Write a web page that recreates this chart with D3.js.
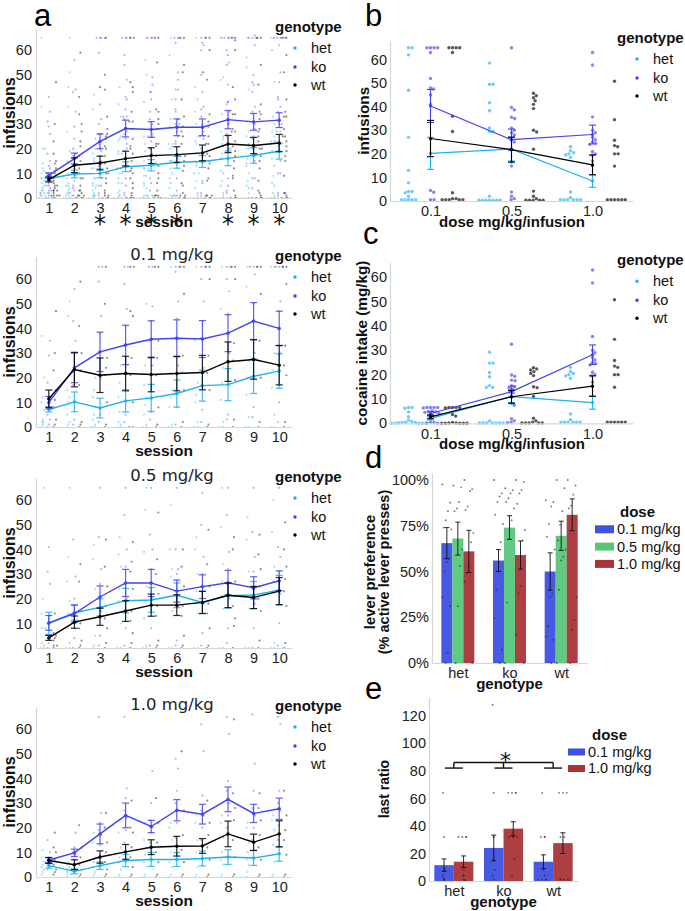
<!DOCTYPE html>
<html>
<head>
<meta charset="utf-8">
<script src="https://cdn.jsdelivr.net/npm/d3@7"></script>
<style>
  body { margin: 0; background: #fff; }
  svg { display: block; }
</style>
</head>
<body>
<div id="corpo"></div>
<script>
// ---- data ----
var sessions = [1, 2, 3, 4, 5, 6, 7, 8, 9, 10];
var genotypes = ["het", "ko", "wt"];
var doseLabels = ["0.1", "0.5", "1.0"];
var doseValues = [0.1, 0.5, 1.0];
var starSessions = [3, 4, 5, 6, 8, 9, 10];

// session means / sem, all doses pooled (panel a)
var meanAll = {het: [7.9, 9.75, 10, 12.7, 13.3, 14.5, 14.8, 16.1, 17.3, 19],
               ko:  [9.2, 16, 23, 28.2, 27.8, 28.7, 28.7, 31.8, 30.9, 31.6],
               wt:  [7.5, 13.3, 14.2, 16, 17.2, 17.6, 18.3, 21.9, 21.3, 22.3]};
var seAll = {het: [1, 1.6, 1.8, 2, 2.3, 2.4, 2.4, 3, 3.2, 3.2],
             ko:  [1, 2.2, 3, 3.4, 3.2, 3.4, 3.4, 3.7, 3.4, 3],
             wt:  [1, 3, 2.8, 3, 3.2, 3.2, 3.2, 3.5, 3.3, 3.5]};
var mean01 = {het: [7.1, 10.2, 7.7, 10.6, 11.8, 13.6, 16.8, 17.2, 20.6, 22.7],
              ko:  [9.9, 24, 30.5, 33.3, 35.6, 36, 35.7, 38.1, 43, 40],
              wt:  [11.5, 23.3, 21, 21.7, 21.3, 21.7, 22.1, 26.5, 27.4, 25.1]};
var se01 = {het: [1, 4, 4, 4.5, 5.5, 5.5, 6.3, 6.5, 7, 7],
            ko:  [2.5, 6, 8, 8, 7.5, 7.5, 7.5, 7.5, 7.5, 7],
            wt:  [3.5, 7, 7, 7, 7, 7, 7, 8, 8, 8]};
var mean05 = {het: [10, 14.3, 16.5, 19.2, 19.5, 21.4, 18.5, 21.2, 21.5, 23.5],
              ko:  [10.2, 14, 20.7, 26.4, 26.4, 23.1, 24.9, 26.5, 24.4, 27.3],
              wt:  [4.1, 10.5, 12.7, 15, 17.4, 17.4, 18.5, 21.4, 20.5, 23.1]};
var se05 = {het: [4.5, 3, 3.5, 5, 5, 5, 4.5, 5, 5.5, 6],
            ko:  [3, 3.5, 4.5, 5.5, 5.5, 4.5, 4.8, 5, 4.5, 4],
            wt:  [1, 2.5, 3.5, 4.2, 4.5, 4.2, 4.5, 5, 4.5, 5.5]};
var mean10 = {het: [4.6, 2.3, 4.6, 6.7, 7.1, 7.1, 7.5, 8.1, 7.7, 9.4],
              ko:  [6.9, 9.8, 17.5, 25, 20.5, 27.1, 25.5, 31.5, 25.8, 27.7],
              wt:  [6.7, 5, 8.1, 10.2, 12.1, 12.5, 12.6, 17.5, 14.1, 17.5]};
var se10 = {het: [1, 1, 1.5, 2.5, 2.8, 2.8, 3, 3, 3, 3],
            ko:  [1, 1.5, 4, 5, 2.5, 4.3, 4, 5, 3.7, 4.3],
            wt:  [1.2, 2, 2.5, 3, 3, 4, 3, 5.2, 3.3, 5.3]};

// individual animals per session (one list per session)
var dots01Het = [[0,1,2,2,3,7,10,12,20,37],[0,1,2,5,10,12,15,45,51],[0,0,1,3,5,8,12,15,20],[0,0,1,2,6,10,12,18,25],[0,0,1,5,9,12,17,25,50],
                 [0,0,1,8,12,15,22,65],[0,0,2,10,13,18,35,65],[0,0,2,11,18,24,48,65],[0,0,4,13,20,27,57,65],[0,0,5,16,23,30,65,65]];
var dots01Ko = [[0,1,3,5,10,12,18,29,35],[1,3,10,17,24,35,43,56],[2,5,20,30,38,45,59,65,65],[2,5,22,33,41,48,58,65,65],[3,6,25,35,43,49,65,65],
                [1,8,25,36,44,51,63,65,65],[2,7,24,36,43,51,60,65,65],[3,5,30,38,46,55,60,65,65],[4,8,30,43,50,62,65,65,65],[2,10,30,40,47,51,65,65,65]];
var dots01Wt = [[0,1,3,8,11,15,23,30,47],[0,1,2,17,23,30,41,59],[0,1,10,21,24,28,50,65],[0,0,10,21,28,45,47,65,65],[0,1,8,21,28,35,65,65],
                [0,2,15,22,29,54,65,65],[0,1,15,22,29,60,65,65],[0,3,19,27,34,60,65,65],[0,2,20,27,35,54,65,65],[0,2,21,25,33,58,65,65]];
var dots05Het = [[0,0,1,2,8,8,14,20,65],[0,0,2,8,14,19,27,37,65],[0,1,5,12,16,24,36,42],[0,0,10,19,24,33,38,45],[0,0,1,12,19,25,39,56,65],
                 [0,0,15,21,29,32,40,58],[0,0,14,18,23,30,40,45],[0,0,16,21,27,34,49,65],[0,0,16,21,25,31,44,53],[0,0,2,23,27,33,47,60]];
var dots05Ko = [[0,2,4,10,13,26,31,41],[0,4,10,14,20,29,44],[1,5,15,20,26,32,45,65],[1,8,20,26,33,40,54,65],[1,8,20,26,32,40,46,65],
                [1,3,17,23,30,32,40,65],[1,6,18,25,30,37,50,63],[2,8,20,26,32,39,54,65],[0,8,18,24,31,37,47,65],[1,10,22,27,31,37,41,65]];
var dots05Wt = [[0,1,1,3,4,5,6,14],[0,1,3,8,10,15,27,34],[0,2,8,12,17,25,33,44],[0,2,6,11,15,24,31,35,43],[0,1,3,13,17,22,30,36,55],
                [0,1,5,13,17,25,33,40],[0,1,8,14,18,25,34,48],[0,9,12,17,21,27,40,45],[0,3,15,20,25,32,38,46],[0,2,17,23,28,33,40,51]];
var dots10Het = [[1,2,3,4,5,6,8,11],[0,1,1,2,3,4,5,6],[0,1,2,4,6,8,14,18],[0,1,3,6,8,12,18,23],[0,1,4,6,9,12,15,22],
                 [0,1,4,6,10,15,20,22],[0,1,4,7,10,15,22,25],[0,1,5,7,10,16,22,25],[0,2,5,7,10,14,20,22],[0,1,6,9,13,19,23,25]];
var dots10Ko = [[3,5,6,7,8,10,15],[5,7,9,10,12,18],[8,13,17,19,22,26,65],[14,19,24,27,32,36,65],[14,18,20,23,30,43],
                [16,22,27,30,35,44,48],[15,20,25,27,33,51,62],[20,25,30,35,39,58,65],[15,20,25,28,35,46,66],[15,21,27,30,35,62,65]];
var dots10Wt = [[1,2,3,5,7,10,12,18],[0,1,3,5,8,12,21],[0,1,3,6,10,14,20,26],[0,1,4,8,12,18,20,31],[0,1,6,10,14,22,32],
                [0,1,6,11,17,27,51],[0,1,7,12,17,22,31],[0,1,8,15,23,28,34,64],[0,1,7,12,17,23,28,34],[0,1,9,15,19,25,35]];

// panel b: infusions per dose (per animal), means and sem
var doseMean = {het: [20.2, 22, 8.5], ko: [40.3, 26, 28.2], wt: [26.5, 21.8, 15.3]};
var doseSe = {het: [6.8, 5, 2.7], ko: [7, 4.5, 4], wt: [7.7, 5.3, 4.2]};
var doseDotsHet = [[65,65,62,47,27,13,7.7,4,4,3.5,2,0.5,0.5,0.5,0.5,0.5],
                   [58.5,49.5,49.5,41.7,38.3,31,29.5,29.5,2,0.3,0.3,0.3,0.3,0.3,0.3,0.3],
                   [23,21.3,20.5,20,19.5,18.5,3.8,1.5,0.5,0.5,0.5,0.5,0.5,0.5]];
var doseDotsKo = [[65,65,65,65,63,52,48,47.5,45,41,4.5,3.7,0.5,0.5],
                  [65,39.7,38.7,35.5,35,31,30,29,28,26,25,22,16.5,14.8,3.8,2,1,0.5],
                  [63,57.7,35.7,30,29,27,26,25,24.5,24,21,20,19.5,17,15]];
var doseDotsWt = [[65,65,65,65,63,36,29.5,3.5,1,1,0.5,0.5,0.5,0.5,0.5],
                  [45.7,44.7,43.8,42.5,41,39.2,30,29.3,22,4.2,2,1,0.3,0.3,0.3,0.3,0.3],
                  [50.8,34.5,25.8,23.5,23,20,20,14.8,0.5,0.5,0.5,0.5,0.5,0.5]];

// panel d: lever preference
var leverDoses = ["0.1 mg/kg", "0.5 mg/kg", "1.0 mg/kg"];
var leverMean = {het: [0.655, 0.68, 0.61], ko: [0.56, 0.74, 0.59], wt: [0.50, 0.695, 0.81]};
var leverSe = {het: [0.085, 0.09, 0.115], ko: [0.06, 0.065, 0.077], wt: [0.102, 0.08, 0.087]};
var leverDots = {
  het: [[0.976,0.876,0.83,0.78,0.74,0.73,0.57,0.55,0.50,0.36,0.31,0.055,0],[0.97,0.96,0.88,0.845,0.83,0.62,0.53,0.31,0],[1,0.95,0.94,0.855,0.836,0.71,0.66,0.53,0.49,0.445,0]],
  ko:  [[1,0.927,0.91,0.88,0.81,0.76,0.66,0.5,0.4,0.245,0.073,0],[0.955,0.945,0.927,0.9,0.88,0.845,0.78,0.68,0.33,0],[1,0.99,0.945,0.927,0.87,0.727,0.67,0.42,0.38,0.155,0]],
  wt:  [[0.89,0.88,0.855,0.76,0.69,0.62,0.38,0.36,0.2,0.145,0.127,0],[1,0.955,0.83,0.755,0.67,0.62,0.58,0.56,0.4,0],[1,0.97,0.92,0.86,0.845,0.36,0.236,0.18,0]]
};

// panel e: last ratio
var ratioDoses = ["0.1 mg/kg", "1.0 mg/kg"];
var ratioMean = {het: [11.5, 14], ko: [24, 38], wt: [14, 27.5]};
var ratioSe = {het: [4.5, 4.2], ko: [9.3, 5], wt: [5, 7.5]};
var ratioDots = {
  het: [[64,32,8,4,2,1,1,0.5],[32,32,32,32,8,4,4,1,0.5]],
  ko:  [[128,64,32,32,16,8,4,1],[64,64,64,64,32,32,32,32,16,4]],
  wt:  [[64,32,32,32,8,4,1,1,1,1],[64,64,64,32,32,1,1,1,1]]
};

// ---- drawing ----
var FONT = "'Liberation Sans', Arial, sans-serif";
var genoColor = {het: "#1eb1ef", ko: "#4242f0", wt: "#000000"};
var doseColor3 = ["#3f51e0", "#58c67a", "#a93438"];
var doseColor2 = ["#3f51e0", "#a93438"];

var svg = d3.select("#corpo").append("svg")
    .attr("width", 685)
    .attr("height", 911)
    .style("font-family", FONT);

function styleAxis(sel) {
    sel.select(".domain").attr("stroke", "#d6d6d6").attr("stroke-width", 1.2);
    sel.selectAll("text").attr("fill", "#222").style("font-size", "14.5px").style("font-family", FONT);
}

function drawAxes(g, x, y, left, bottom, yTicks, yFmt, pad) {
    var ya = d3.axisLeft(y).tickValues(yTicks).tickSize(0).tickSizeOuter(0).tickPadding(pad);
    if (yFmt) ya.tickFormat(yFmt);
    g.append("g").attr("transform", "translate(" + left + ",0)").call(ya).call(styleAxis);
    var xa = d3.axisBottom(x).tickSize(0).tickSizeOuter(0).tickPadding(5);
    g.append("g").attr("transform", "translate(0," + bottom + ")").call(xa).call(styleAxis);
}

function text(g, x, y, s, size, weight, anchor, rotate) {
    var t = g.append("text").attr("x", x).attr("y", y).text(s)
        .style("font-size", size + "px").style("font-weight", weight || "normal")
        .attr("text-anchor", anchor || "start").attr("fill", "#111");
    if (rotate) t.attr("transform", "rotate(-90," + x + "," + y + ")");
    return t;
}

function errBar(g, x, lo, hi, w) {
    g.append("line").attr("x1", x).attr("x2", x).attr("y1", lo).attr("y2", hi);
    g.append("line").attr("x1", x - w).attr("x2", x + w).attr("y1", lo).attr("y2", lo);
    g.append("line").attr("x1", x - w).attr("x2", x + w).attr("y1", hi).attr("y2", hi);
}

// spread repeated values sideways like the reference's dodged points
function spreadDup(vals, gap) {
    var count = {}, idx = {};
    vals.forEach(function(v) { count[v] = (count[v] || 0) + 1; });
    return vals.map(function(v, i) {
        idx[v] = (idx[v] === undefined) ? 0 : idx[v] + 1;
        return {v: v, dx: (idx[v] - (count[v] - 1) / 2) * gap + ((i % 3) - 1) * 1.2};
    });
}

// simple beeswarm offsets
function swarm(vals, y, r) {
    var placed = [];
    vals.forEach(function(v) {
        var p = {v: v, py: y(v), dx: 0};
        for (var k = 0; k < 200; k++) {
            var cand = k === 0 ? 0 : (k % 2 ? 1 : -1) * Math.ceil(k / 2) * 0.4;
            var ok = placed.every(function(q) {
                var ddx = q.dx - cand, ddy = q.py - p.py;
                return ddx * ddx + ddy * ddy >= 4 * r * r;
            });
            if (ok) { p.dx = cand; break; }
        }
        placed.push(p);
    });
    return placed;
}

function genoLegend(g, x, y0, dx) {
    text(g, x, y0, "genotype", 15, "bold");
    var ys = [21, 40, 58];
    genotypes.forEach(function(gt, i) {
        g.append("circle").attr("cx", x + dx).attr("cy", y0 + ys[i] - 5).attr("r", 1.7).attr("fill", genoColor[gt]);
        text(g, x + dx + 16, y0 + ys[i], gt, 14.5);
    });
}

function drawLinePanel(y0, title, means, se, dots, stars) {
    var g = svg.append("g");
    var x = d3.scalePoint().domain(sessions).range([36, 292]).padding(0.5);
    var y = d3.scaleLinear().domain([0, 69]).range([y0, y0 - 170]);
    var offs = {het: -6, ko: 0, wt: 6};

    genotypes.forEach(function(gt) {
        sessions.forEach(function(s, si) {
            g.selectAll(null).data(spreadDup(dots[gt][si], 2.3)).enter().append("circle")
                .attr("cx", function(d) { return x(s) + offs[gt] + d.dx; })
                .attr("cy", function(d) { return y(d.v); })
                .attr("r", 1.1)
                .attr("fill", genoColor[gt])
                .attr("fill-opacity", gt === "wt" ? 0.45 : 0.4);
        });
    });

    drawAxes(g, x, y, 36, y0, d3.range(0, 61, 10), null, 4);

    genotypes.forEach(function(gt) {
        var m = means[gt], e = se[gt], c = genoColor[gt];
        var eb = g.append("g").attr("stroke", c).attr("stroke-width", 1.2).attr("opacity", 0.85);
        sessions.forEach(function(s, i) { errBar(eb, x(s), y(m[i] - e[i]), y(m[i] + e[i]), 3.5); });
        g.append("path").datum(m)
            .attr("fill", "none").attr("stroke", c).attr("stroke-width", 1.4)
            .attr("d", d3.line().x(function(d, i) { return x(sessions[i]); }).y(function(d) { return y(d); }));
        g.selectAll(null).data(m).enter().append("circle")
            .attr("cx", function(d, i) { return x(sessions[i]); })
            .attr("cy", function(d) { return y(d); })
            .attr("r", 1.7).attr("fill", c);
    });

    if (title) {
        text(g, 172, y0 - 167, title, 16.5, "normal", "middle").style("font-family", "'DejaVu Sans', sans-serif").attr("fill", "#222");
    }
    if (stars) {
        g.selectAll(null).data(stars).enter().append("text")
            .attr("x", function(d) { return x(d); })
            .attr("y", y0 + 34)
            .attr("text-anchor", "middle")
            .style("font-family", "'DejaVu Sans', sans-serif")
            .style("font-size", "24px")
            .attr("fill", "#111")
            .text("*");
    }
    genoLegend(g, 275, y0 - 166, 20);
    text(g, 15, y0 - 85, "infusions", 16, "bold", "middle", true);
    text(g, 164, y0 + 29, "session", 15.5, "bold", "middle");
}

function drawDosePanel(y0, top, yMax, useIntake, yTitle, titleX) {
    var g = svg.append("g");
    var x = d3.scalePoint().domain(doseLabels).range([390, 633]).padding(0.5);
    var y = d3.scaleLinear().domain([0, yMax]).range([y0, top]);
    var offs = {het: -22, ko: 0, wt: 22};
    var dotsBy = {het: doseDotsHet, ko: doseDotsKo, wt: doseDotsWt};
    var k = function(di) { return useIntake ? doseValues[di] : 1; };

    genotypes.forEach(function(gt) {
        doseLabels.forEach(function(dl, di) {
            var vals = dotsBy[gt][di].map(function(v) { return v * k(di); });
            g.selectAll(null).data(swarm(vals, y, 1.7)).enter().append("circle")
                .attr("cx", function(d) { return x(dl) + offs[gt] + d.dx; })
                .attr("cy", function(d) { return d.py; })
                .attr("r", 1.7)
                .attr("fill", genoColor[gt])
                .attr("fill-opacity", 0.65);
        });
    });

    drawAxes(g, x, y, 390, y0, d3.range(0, 61, 10), null, 3);

    genotypes.forEach(function(gt) {
        var m = doseMean[gt].map(function(v, di) { return v * k(di); });
        var e = doseSe[gt].map(function(v, di) { return v * k(di); });
        var c = genoColor[gt];
        var eb = g.append("g").attr("stroke", c).attr("stroke-width", 1.1);
        doseLabels.forEach(function(dl, i) { errBar(eb, x(dl), y(m[i] - e[i]), y(m[i] + e[i]), 3.5); });
        g.append("path").datum(m)
            .attr("fill", "none").attr("stroke", c).attr("stroke-width", 1.2)
            .attr("d", d3.line().x(function(d, i) { return x(doseLabels[i]); }).y(function(d) { return y(d); }));
        g.selectAll(null).data(m).enter().append("circle")
            .attr("cx", function(d, i) { return x(doseLabels[i]); })
            .attr("cy", function(d) { return y(d); })
            .attr("r", 1.6).attr("fill", c);
    });

    genoLegend(g, 617, y0 - 158, 20);
    text(g, titleX, (y0 + top) / 2, yTitle, 15.3, "bold", "middle", true);
    text(g, 512, y0 + 26, "dose mg/kg/infusion", 15, "bold", "middle");
}

function drawBarPanel(o) {
    var g = svg.append("g");
    var x = d3.scalePoint().domain(genotypes).range(o.xr).padding(0.5);
    var xs = d3.scaleBand().domain(o.doses).range([-o.half, o.half]);
    var y = d3.scaleLinear().domain([0, o.yMax]).range([o.y0, o.top]);
    var bw = xs.bandwidth();

    genotypes.forEach(function(gt) {
        o.doses.forEach(function(ds, di) {
            var m = o.means[gt][di];
            g.append("rect")
                .attr("x", x(gt) + xs(ds)).attr("y", y(m))
                .attr("width", bw).attr("height", o.y0 - y(m))
                .attr("fill", o.colors[di]).attr("fill-opacity", 0.95);
        });
    });

    drawAxes(g, x, y, o.xr[0], o.y0, o.ticks, o.fmt, 3);

    genotypes.forEach(function(gt) {
        o.doses.forEach(function(ds, di) {
            var cx = x(gt) + xs(ds) + bw / 2;
            var pts = o.jitter ? o.dots[gt][di].map(function(v, i) { return {v: v, dx: (((i * 7) % 9) - 4) * 1.1}; })
                               : spreadDup(o.dots[gt][di], 2.6);
            g.selectAll(null).data(pts).enter().append("circle")
                .attr("cx", function(d) { return cx + d.dx; })
                .attr("cy", function(d) { return y(d.v); })
                .attr("r", 0.95)
                .attr("fill", "#222").attr("fill-opacity", 0.6);
            var m = o.means[gt][di], e = o.se[gt][di];
            var eb = g.append("g").attr("stroke", "#111").attr("stroke-width", 0.9);
            errBar(eb, cx, y(m - e), y(m + e), 2.5);
        });
    });

    // legend
    text(g, o.leg[0] + o.legTitleDx, o.leg[1], "dose", 15, "bold");
    o.doses.forEach(function(ds, di) {
        var by = o.leg[1] + o.legStep * (di + 1);
        g.append("rect").attr("x", o.leg[0]).attr("y", by - o.swH - 1)
            .attr("width", o.swW).attr("height", o.swH).attr("fill", o.colors[di]);
        text(g, o.leg[0] + o.swW + 3, by, ds, 14.5);
    });
    text(g, (o.xr[0] + o.xr[1]) / 2, o.y0 + 26, "genotype", 15, "bold", "middle");
    return {g: g, x: x, y: y};
}

// panel letters
[["a", 34, 26], ["b", 365, 26], ["c", 363, 244], ["d", 365, 468], ["e", 365, 699]].forEach(function(l) {
    text(svg, l[1], l[2], l[0], 31, "normal").attr("fill", "#000");
});

function pooled(a, b, c) {
    return a.map(function(s, i) { return s.concat(b[i], c[i]); });
}
var dotsAll = {het: pooled(dots01Het, dots05Het, dots10Het),
               ko: pooled(dots01Ko, dots05Ko, dots10Ko),
               wt: pooled(dots01Wt, dots05Wt, dots10Wt)};

drawLinePanel(198, null, meanAll, seAll, dotsAll, starSessions);
drawLinePanel(427, "0.1 mg/kg", mean01, se01, {het: dots01Het, ko: dots01Ko, wt: dots01Wt});
drawLinePanel(648, "0.5 mg/kg", mean05, se05, {het: dots05Het, ko: dots05Ko, wt: dots05Wt});
drawLinePanel(877, "1.0 mg/kg", mean10, se10, {het: dots10Het, ko: dots10Ko, wt: dots10Wt});

drawDosePanel(201, 40.7, 68, false, "infusions", 369);
drawDosePanel(423.3, 262.7, 66, true, "cocaine intake (mg/kg)", 367);

var pd = drawBarPanel({
    y0: 663, top: 472.7, yMax: 1.04, xr: [432, 587], half: 16.5,
    doses: leverDoses, colors: doseColor3, means: leverMean, se: leverSe, dots: leverDots, jitter: true,
    ticks: [0, 0.25, 0.5, 0.75, 1], fmt: d3.format(".0%"),
    leg: [595, 517], legTitleDx: 25, legStep: 17.3, swW: 19, swH: 8
});
text(pd.g, 375, 572, "lever preference", 14.8, "bold", "middle", true);
text(pd.g, 388.5, 572, "(% active lever presses)", 14.5, "bold", "middle", true);

var pe = drawBarPanel({
    y0: 881, top: 697, yMax: 133.6, xr: [429, 578], half: 19.5,
    doses: ratioDoses, colors: doseColor2, means: ratioMean, se: ratioSe, dots: ratioDots, jitter: false,
    ticks: d3.range(0, 121, 20), fmt: null,
    leg: [568, 740], legTitleDx: 24, legStep: 16.5, swW: 17, swH: 7
});
text(pe.g, 389, 789, "last ratio", 14, "bold", "middle", true);

// significance bracket in e
var sig = pe.g.append("g").attr("stroke", "#111").attr("stroke-width", 1.4);
genotypes.forEach(function(gt) {
    var cx = pe.x(gt);
    sig.append("line").attr("x1", cx - 9).attr("x2", cx + 9).attr("y1", pe.y(82)).attr("y2", pe.y(82));
    sig.append("line").attr("x1", cx).attr("x2", cx).attr("y1", pe.y(82)).attr("y2", pe.y(86));
});
sig.append("line").attr("x1", pe.x("het")).attr("x2", pe.x("wt")).attr("y1", pe.y(86)).attr("y2", pe.y(86));
pe.g.append("text").attr("x", pe.x("ko") + 2).attr("y", pe.y(90) + 11)
    .attr("text-anchor", "middle").style("font-family", "'DejaVu Sans', sans-serif")
    .style("font-size", "22px").attr("fill", "#111").text("*");
</script>
</body>
</html>
